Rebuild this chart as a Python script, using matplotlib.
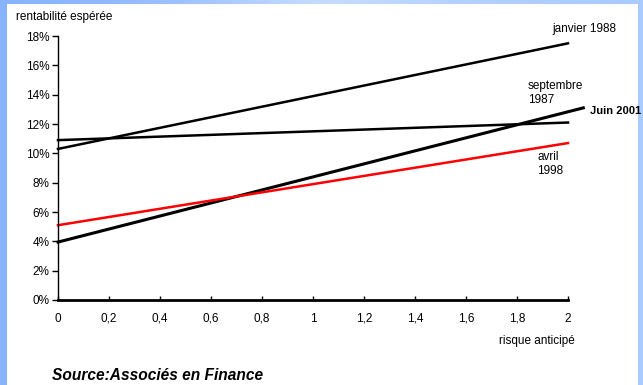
#!/usr/bin/env python

# Expected return vs anticipated risk lines (Associés en Finance)

import numpy
import matplotlib
matplotlib.use('Agg')
import matplotlib.pyplot as plt
from matplotlib.patches import Rectangle
from matplotlib.ticker import FuncFormatter

plt.rcParams['font.family'] = ['Liberation Sans', 'DejaVu Sans']

# Data: endpoints of each market line (risk, expected return)
janv88_x = [0, 2]
janv88_y = [0.103, 0.175]
sept87_x = [0, 2]
sept87_y = [0.109, 0.121]
juin01_x = [0, 2.06]
juin01_y = [0.0395, 0.131]
avr98_x = [0, 2]
avr98_y = [0.051, 0.107]

xticks = [0, 0.2, 0.4, 0.6, 0.8, 1, 1.2, 1.4, 1.6, 1.8, 2]
xticklabels = ['0', '0,2', '0,4', '0,6', '0,8', '1', '1,2', '1,4', '1,6', '1,8', '2']
yticks = [0, 0.02, 0.04, 0.06, 0.08, 0.10, 0.12, 0.14, 0.16, 0.18]

fig = plt.figure(figsize=(6.43, 3.85), dpi=100)

# Blue slide background with white panel
bg = fig.add_axes([0, 0, 1, 1])
bg.set_axis_off()
grad = numpy.array([[0.0, 0.5, 1.0]])
cmap = matplotlib.colors.LinearSegmentedColormap.from_list(
    'slide', ['#86b2ff', '#c6ddff', '#a9cbff'])
bg.imshow(grad, cmap=cmap, aspect='auto', extent=[0, 1, 0, 1],
          interpolation='bicubic')
bg.add_patch(Rectangle((7/643, 0), (638-7)/643, 1-4/385,
                       facecolor='white', edgecolor='none'))
bg.set_xlim(0, 1)
bg.set_ylim(0, 1)

ax = fig.add_axes([58/643, 1-300/385, (568-58)/643, (300-36)/385])
ax.set_facecolor('none')
ax.set_xlim(0, 2)
ax.set_ylim(0, 0.18)

ax.plot(janv88_x, janv88_y, color='black', lw=1.8, clip_on=False)
ax.plot(sept87_x, sept87_y, color='black', lw=1.8, clip_on=False)
ax.plot(juin01_x, juin01_y, color='black', lw=2.2, clip_on=False)
ax.plot(avr98_x, avr98_y, color='#ff0000', lw=1.8, clip_on=False)

for s in ['top', 'right']:
    ax.spines[s].set_visible(False)
ax.spines['left'].set_linewidth(1.0)
ax.spines['bottom'].set_linewidth(2.0)

ax.set_xticks(xticks)
ax.set_xticklabels(xticklabels)
ax.set_yticks(yticks)
ax.yaxis.set_major_formatter(FuncFormatter(lambda v, p: '%d%%' % round(v*100)))
ax.tick_params(axis='x', direction='in', length=3, width=1, labelsize=8.5, pad=9)
ax.tick_params(axis='y', direction='out', length=4, width=1, labelsize=8.5, pad=2)

fs = 8.5
fig.text(16/643, 1-17/385, 'rentabilité espérée', fontsize=fs, va='center')
fig.text(499/643, 1-341/385, 'risque anticipé', fontsize=fs, va='center')
fig.text(552/643, 1-29/385, 'janvier 1988', fontsize=fs, va='center')
fig.text(528/643, 1-93/385, 'septembre\n1987', fontsize=fs, va='center',
         linespacing=1.15)
fig.text(590/643, 1-111/385, 'Juin 2001', fontsize=8, fontweight='bold',
         va='center')
fig.text(537/643, 1-164/385, 'avril\n1998', fontsize=fs, va='center',
         linespacing=1.15)
fig.text(52/643, 1-376/385, 'Source:Associés en Finance', fontsize=11.2,
         fontweight='bold', fontstyle='italic', va='center')

fig.savefig('out.png', dpi=100)
